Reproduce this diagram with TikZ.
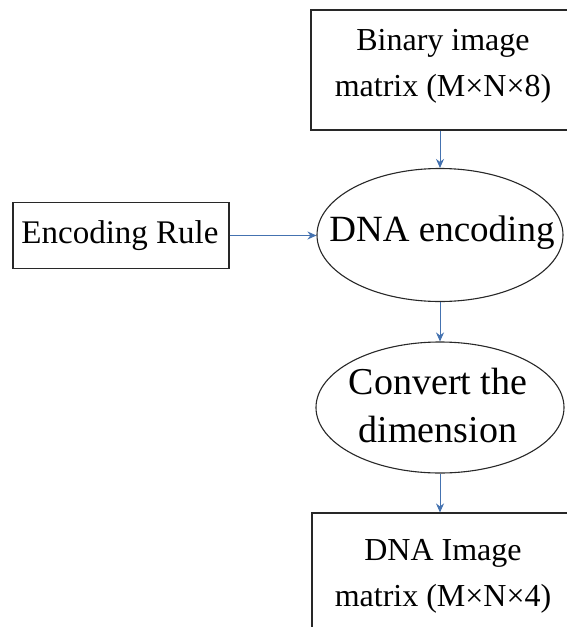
\documentclass[tikz,border=0pt]{standalone}
\usepackage{fontspec}
\setmainfont{Liberation Serif}
\usetikzlibrary{shapes.geometric,arrows.meta}
\definecolor{flowblue}{RGB}{68,114,176}
\definecolor{edgegray}{RGB}{40,40,40}
\tikzset{
  boxnode/.style={draw=edgegray, line width=1.1pt, rectangle, inner sep=0pt},
  ovalnode/.style={draw=edgegray, line width=1.1pt, ellipse, inner sep=0pt},
  boxtext/.style={align=center, inner sep=0pt, font=\fontsize{32}{46}\selectfont},
  ovaltext/.style={align=center, inner sep=0pt, font=\fontsize{37}{48}\selectfont},
  flow/.style={draw=flowblue, line width=1pt, -{Stealth[length=9pt,width=8pt]}}
}
\begin{document}
\begin{tikzpicture}[x=1pt,y=-1pt]
  \useasboundingbox[fill=white] (0,0) rectangle (567,627);
  % outlines
  \node[boxnode, minimum width=259pt, minimum height=120pt] (binary) at (440.5,70) {};
  \node[boxnode, minimum width=216pt, minimum height=66pt] (rule) at (121,235.5) {};
  \node[ovalnode, minimum width=246pt, minimum height=133pt] (encode) at (440,235) {};
  \node[ovalnode, minimum width=248pt, minimum height=131pt] (convert) at (440,407.5) {};
  \node[boxnode, minimum width=258pt, minimum height=117pt] (dnaimg) at (441,571.5) {};
  % texts
  \node[boxtext] (binarytxt) at (443,66) {Binary image\\matrix (M×N×8)};
  \node[boxtext, font=\fontsize{33}{46}\selectfont] (ruletxt) at (120,236) {Encoding Rule};
  \node[ovaltext] (encodetxt) at (442,233) {DNA encoding};
  \node[ovaltext, font=\fontsize{38}{48}\selectfont] (converttxt) at (438,405) {Convert the\\dimension};
  \node[boxtext] (dnaimgtxt) at (443,576) {DNA Image\\matrix (M×N×4)};
  % connectors
  \draw[flow] (binary.south -| encode.north) -- (encode.north);
  \draw[flow] (rule.east) -- (rule.east -| encode.west);
  \draw[flow] (encode.south) -- (convert.north);
  \draw[flow] (convert.south) -- (dnaimg.north -| convert.south);
\end{tikzpicture}
\end{document}
